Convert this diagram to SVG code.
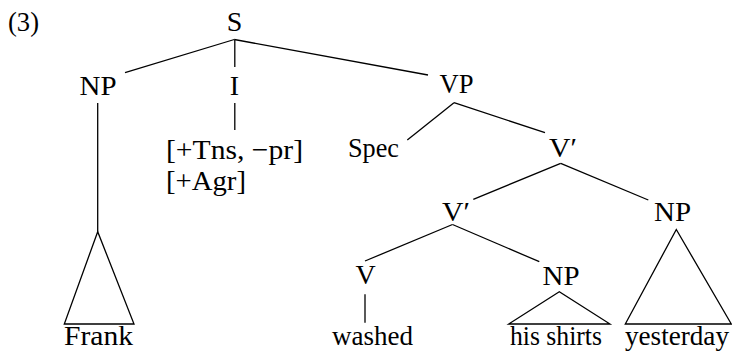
<svg xmlns="http://www.w3.org/2000/svg" width="732" height="352" viewBox="0 0 732 352">
<style>
text{font-family:"Liberation Serif","Times New Roman",serif;font-size:28px;fill:#000}
.c{text-anchor:middle}
.e{fill:none;stroke:#000;stroke-width:1.3;stroke-linecap:butt}
</style>
<rect width="732" height="352" fill="#fff"/>
<text id="label" x="8" y="31" textLength="31" lengthAdjust="spacingAndGlyphs">(3)</text>
<g id="connectors" class="e">
<line x1="234.3" y1="39.5" x2="125" y2="72.7"/>
<line x1="234.8" y1="39.5" x2="234.8" y2="67"/>
<line x1="234.3" y1="39.5" x2="428" y2="75"/>
<line x1="97.7" y1="103" x2="97.7" y2="231.7"/>
<line x1="234.8" y1="103" x2="234.8" y2="130"/>
<line x1="454" y1="102.7" x2="407.3" y2="140"/>
<line x1="454" y1="102.7" x2="545" y2="132.7"/>
<line x1="560.7" y1="163.3" x2="473.3" y2="199.3"/>
<line x1="560.7" y1="163.3" x2="648.3" y2="200"/>
<line x1="452.5" y1="224.5" x2="365" y2="261"/>
<line x1="452.5" y1="224.5" x2="539.3" y2="261.7"/>
<line x1="365" y1="294.3" x2="365" y2="322.7"/>
</g>
<g id="S"><text class="c" x="234.5" y="31">S</text></g>
<g id="NP1"><text class="c" x="98" y="95" textLength="37" lengthAdjust="spacingAndGlyphs">NP</text></g>
<g id="I"><text class="c" x="234.5" y="95">I</text></g>
<g id="VP"><text class="c" x="456.5" y="93" textLength="34" lengthAdjust="spacingAndGlyphs">VP</text></g>
<g id="features">
<text x="166" y="159" textLength="137" lengthAdjust="spacingAndGlyphs">[+Tns, −pr]</text>
<text x="166" y="190" textLength="80" lengthAdjust="spacingAndGlyphs">[+Agr]</text>
</g>
<g id="Spec"><text class="c" x="373.5" y="157" textLength="51" lengthAdjust="spacingAndGlyphs">Spec</text></g>
<g id="Vbar1"><text x="549" y="157" textLength="28" lengthAdjust="spacingAndGlyphs">V′</text></g>
<g id="Vbar2"><text x="442" y="221" textLength="28" lengthAdjust="spacingAndGlyphs">V′</text></g>
<g id="NP3"><text class="c" x="672.5" y="221" textLength="37" lengthAdjust="spacingAndGlyphs">NP</text></g>
<g id="V"><text class="c" x="365.5" y="284">V</text></g>
<g id="NP2"><text class="c" x="561" y="285" textLength="37" lengthAdjust="spacingAndGlyphs">NP</text></g>
<g id="Frank">
<polygon class="e" points="97.7,231.7 64.3,324 134,324"/>
<text x="64" y="345" textLength="69" lengthAdjust="spacingAndGlyphs">Frank</text>
</g>
<g id="washed"><text x="332" y="345" textLength="81" lengthAdjust="spacingAndGlyphs">washed</text></g>
<g id="hisshirts">
<polygon class="e" points="559.3,291.7 508.7,324 610,324"/>
<text x="510" y="345" textLength="92" lengthAdjust="spacingAndGlyphs">his shirts</text>
</g>
<g id="yesterday">
<polygon class="e" points="676.3,229.5 625.3,324 731.3,324"/>
<text x="625" y="345" textLength="104" lengthAdjust="spacingAndGlyphs">yesterday</text>
</g>
</svg>
